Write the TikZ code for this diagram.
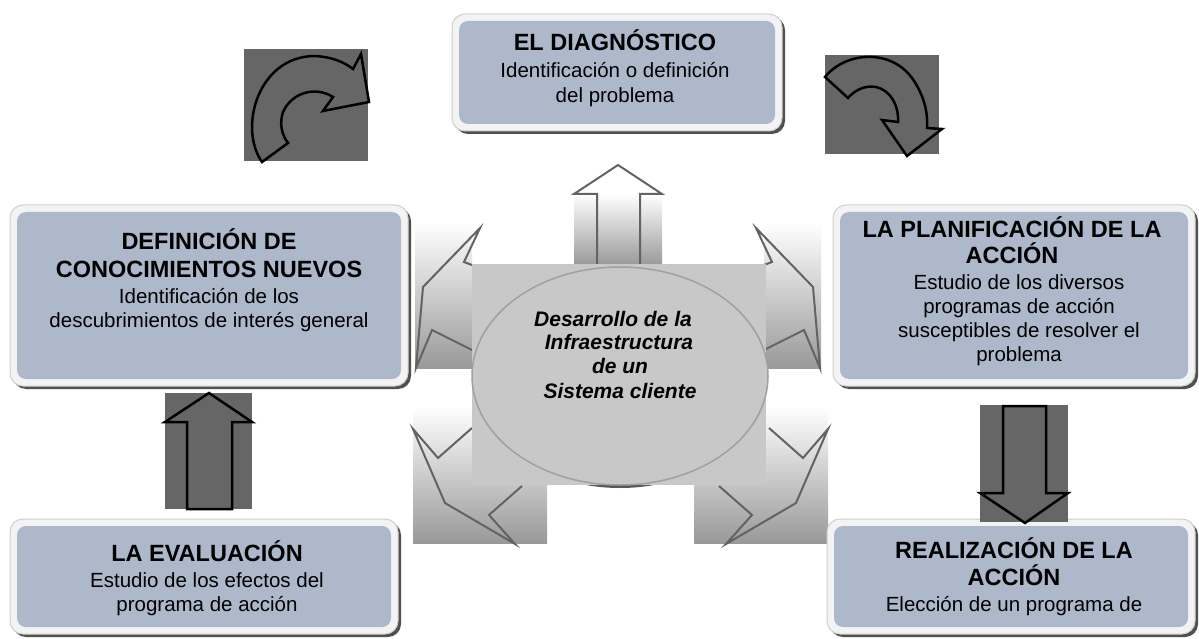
\documentclass[tikz,border=0pt]{standalone}
\usepackage{fontspec}
\setmainfont{Liberation Sans}
\definecolor{boxfill}{HTML}{ADB9CA}
\definecolor{rimfill}{HTML}{F3F3F3}
\definecolor{rimline}{HTML}{CFCFCF}
\definecolor{shadowc}{HTML}{505050}
\definecolor{dkgray}{HTML}{666666}
\definecolor{ctrgray}{HTML}{C8C8C8}
\definecolor{ellline}{HTML}{A0A0A0}
\definecolor{arrline}{HTML}{636363}
\definecolor{gradbot}{HTML}{999999}
\newcommand{\mybox}[4]{%
  \fill[boxshadow] (#1+3,#2+3) rectangle (#3+3,#4+3);
  \draw[boxrim] (#1,#2) rectangle (#3,#4);
  \fill[boxin] (#1+7,#2+7) rectangle (#3-7,#4-7);}
\begin{document}
\begin{tikzpicture}[x=1pt,y=-1pt,
  boxshadow/.style={fill=shadowc, rounded corners=13pt},
  boxrim/.style={fill=rimfill, draw=rimline, line width=1pt, rounded corners=13pt},
  boxin/.style={fill=boxfill, rounded corners=9pt},
  hd/.style={font=\fontsize{23.5}{28}\selectfont\bfseries, inner sep=0pt, anchor=base},
  bd/.style={font=\fontsize{20.5}{25}\selectfont, inner sep=0pt, anchor=base},
  ct/.style={font=\fontsize{21}{24}\selectfont\bfseries\itshape, inner sep=0pt, anchor=base},
  grad/.style={top color=white, bottom color=gradbot, draw=none},
  garrow/.style={draw=arrline, line width=2pt, line join=miter},
  darrow/.style={fill=dkgray, draw=black, line width=2.5pt, line join=miter},
  dsq/.style={fill=dkgray}]
\useasboundingbox (0,0) rectangle (1199,639);

% ---- gradient arrows around the centre ----
\shade[grad] (574,194) rectangle (662,265);
\draw[garrow] (597,265) -- (597,194) -- (574,194) -- (618,165) -- (662,194) -- (640,194) -- (640,265);
\shade[grad] (415,222) rectangle (472,368);
\draw[garrow] (472,265) -- (464,262) -- (480,228) -- (423,287) -- (416,368) -- (432,330) -- (472,350);
\shade[grad] (764,222) rectangle (821,368);
\draw[garrow] (764,265) -- (772,262) -- (756,228) -- (813,287) -- (820,368) -- (804,330) -- (764,350);
\shade[grad] (413,407) rectangle (547,543);
\draw[garrow] (472,428) -- (438,458) -- (413,429) -- (445,503) -- (515,544) -- (489,515) -- (522,486);
\shade[grad] (694,407) rectangle (828,543);
\draw[garrow] (769,428) -- (803,458) -- (828,429) -- (796,503) -- (726,544) -- (752,515) -- (719,486);

% ---- centre ----
\fill[black!65] (620,379) ellipse [x radius=146pt, y radius=109pt];
\fill[ctrgray] (472,264) rectangle (766,485);
\draw[fill=ctrgray, draw=ellline, line width=1.5pt] (620,376) ellipse [x radius=148pt, y radius=109pt];
\node[ct] (c1) at (613,326) {Desarrollo de la};
\node[ct] (c2) at (619,349) {Infraestructura};
\node[ct] (c3) at (620,373) {de un};
\node[ct] (c4) at (620,398) {Sistema cliente};

% ---- boxes ----
\mybox{452}{14}{782}{131}
\node[hd] (t1) at (615,51) {EL DIAGNÓSTICO};
\node[bd] (t2) at (615,78) {Identificación o definición};
\node[bd] (t3) at (615,103) {del problema};

\mybox{10}{205}{408}{386}
\node[hd] (l1) at (209,249) {DEFINICIÓN DE};
\node[hd] (l2) at (209,277) {CONOCIMIENTOS NUEVOS};
\node[bd] (l3) at (209,303) {Identificación de los};
\node[bd] (l4) at (209,327) {descubrimientos de interés general};

\mybox{833}{205}{1195}{386}
\node[hd] (r1) at (1012,237) {LA PLANIFICACIÓN DE LA};
\node[hd] (r2) at (1012,263) {ACCIÓN};
\node[bd] (r3) at (1019,289) {Estudio de los diversos};
\node[bd] (r4) at (1019,313) {programas de acción};
\node[bd] (r5) at (1019,337) {susceptibles de resolver el};
\node[bd] (r6) at (1019,361) {problema};

\mybox{10}{519}{398}{634}
\node[hd] (b1) at (207,561) {LA EVALUACIÓN};
\node[bd] (b2) at (207,587) {Estudio de los efectos del};
\node[bd] (b3) at (207,611) {programa de acción};

\mybox{827}{519}{1195}{634}
\node[hd] (e1) at (1014,558) {REALIZACIÓN DE LA};
\node[hd] (e2) at (1014,585) {ACCIÓN};
\node[bd] (e3) at (1014,611) {Elección de un programa de};

% ---- dark curved arrows ----
\fill[dsq] (244,49) rectangle (368,161);
\draw[darrow] (262,162) .. controls (238,128) and (258,56) .. (315,56)
  .. controls (332,57) and (344,62) .. (353,69) -- (361,54) -- (369,102) -- (323,111) -- (333,97)
  .. controls (316,86) and (292,92) .. (283,112) .. controls (279,124) and (282,135) .. (288,143) -- cycle;
\fill[dsq] (825,55) rectangle (939,154);
\draw[darrow] (825,77) .. controls (845,52) and (890,48) .. (912,78)
  .. controls (924,95) and (928,112) .. (927,128) -- (942,129) -- (907,156) -- (882,120) -- (898,122)
  .. controls (899,105) and (890,90) .. (876,87) .. controls (865,85) and (855,90) .. (848,98) -- cycle;

% ---- dark straight arrows ----
\fill[dsq] (165,393) rectangle (252,509);
\draw[darrow] (209,393) -- (252,422) -- (232,422) -- (232,509) -- (187,509) -- (187,422) -- (165,422) -- cycle;
\fill[dsq] (980,405) rectangle (1068,522);
\draw[darrow] (1003,406) -- (1046,406) -- (1046,493) -- (1068,493) -- (1025,523) -- (980,493) -- (1003,493) -- cycle;
\end{tikzpicture}
\end{document}
